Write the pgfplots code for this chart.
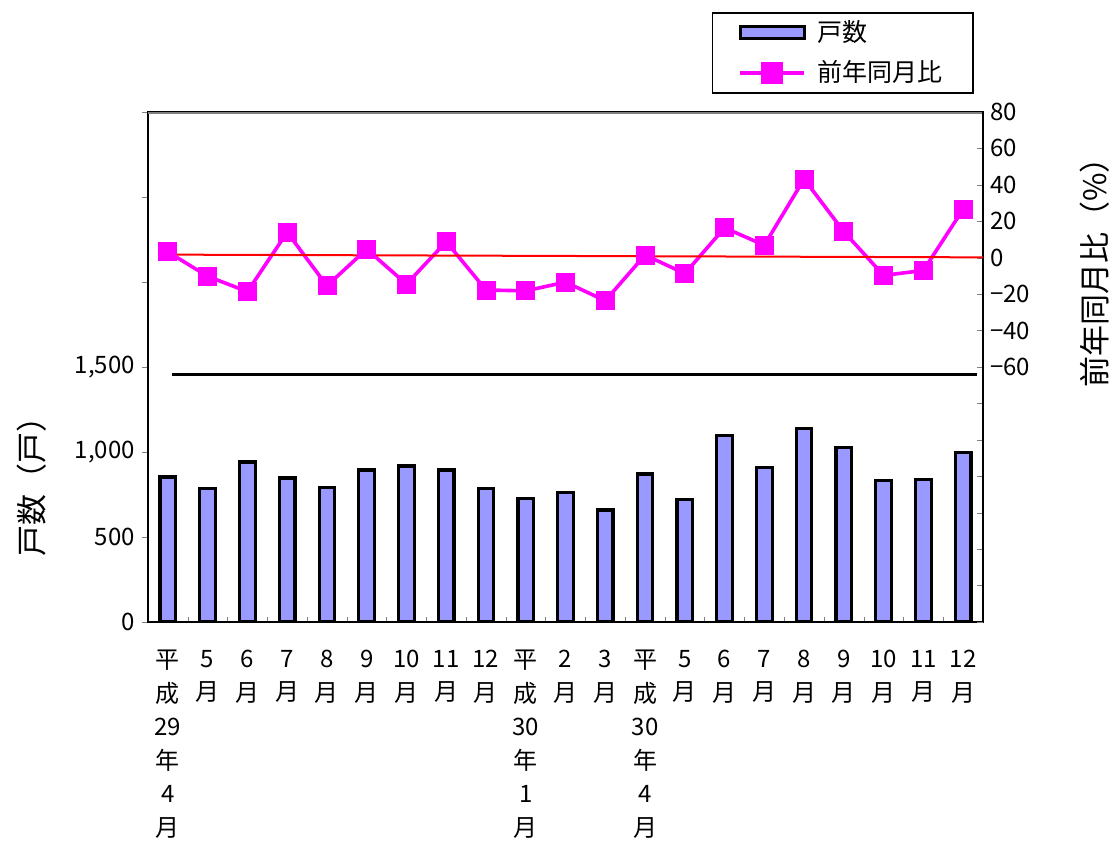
\documentclass[border=0pt]{standalone}
\usepackage{pgfplots}
\usepackage{pgfplotstable}
\pgfplotsset{compat=1.18}
\usepackage{fontspec}
\setmainfont{Noto Sans CJK JP}
\definecolor{barblue}{RGB}{153,153,255}
\definecolor{mag}{RGB}{255,0,255}
\definecolor{framegray}{RGB}{128,128,128}

\pgfplotstableread{
x hu yoy
0 853 3.2
1 785 -10.2
2 941 -18.6
3 847 14.0
4 792 -15.4
5 894 4.7
6 918 -14.5
7 894 8.8
8 784 -17.7
9 727 -18.2
10 761 -13.4
11 659 -23.6
12 871 1.5
13 722 -8.7
14 1098 16.4
15 910 6.9
16 1137 43.2
17 1028 14.3
18 831 -9.7
19 839 -7.0
20 996 26.6
}\data

\begin{document}
\begin{tikzpicture}
\useasboundingbox (-74pt,-110.5pt) rectangle (482pt,311pt);
\begin{axis}[
  scale only axis, width=417.5pt, height=255pt,
  at={(0,0)}, anchor=south west,
  xmin=-0.5, xmax=20.5, ymin=0, ymax=3000,
  /pgf/number format/assume math mode=true,
  axis line style={black, line width=1pt},
  xtick={0,...,20},
  xticklabels={{平\\成\\29\\年\\4\\月},{5\\月},{6\\月},{7\\月},{8\\月},{9\\月},{10\\月},{11\\月},{12\\月},{平\\成\\30\\年\\1\\月},{2\\月},{3\\月},{平\\成\\30\\年\\4\\月},{5\\月},{6\\月},{7\\月},{8\\月},{9\\月},{10\\月},{11\\月},{12\\月}},
  xticklabel style={align=center, anchor=north, yshift=-10.5pt, font=\fontsize{12}{16.75}\selectfont},
  major x tick style={draw=none},
  minor x tick num=1, minor tick length=2.5pt,
  xtick pos=bottom, xtick align=inside,
  ytick={0,500,...,3000},
  yticklabels={0,500,{1,000},{1,500},{},{},{}},
  ytick pos=left, ytick align=outside, major tick length=3pt,
  yticklabel style={font=\fontsize{12}{14}\selectfont},
  ylabel={戸数（戸）},
  ylabel style={at={(axis description cs:-0.139,0.28)}, anchor=center, font=\fontsize{15.5}{17}\selectfont},
]
\addplot[ybar, bar width=7.8pt, fill=barblue, draw=black, line width=1.6pt] table[x=x,y=hu]{\data};
\draw[framegray, line width=1.5pt] (rel axis cs:0,1) -- (rel axis cs:1,1);
\end{axis}
\begin{axis}[
  scale only axis, width=417.5pt, height=255pt,
  at={(0,0)}, anchor=south west,
  xmin=-0.5, xmax=20.5, ymin=-200, ymax=80,
  /pgf/number format/assume math mode=true,
  axis x line=none, axis y line*=right,
  axis line style={black, line width=1pt},
  ytick={-200,-180,...,80},
  yticklabels={{},{},{},{},{},{},{},−60,−40,−20,0,20,40,60,80},
  ytick align=inside, major tick length=3pt,
  yticklabel style={font=\fontsize{12}{14}\selectfont},
  ylabel={前年同月比（\%）},
  ylabel style={at={(axis description cs:1.134,0.70)}, anchor=center, rotate=0, font=\fontsize{15.5}{17}\selectfont},
  legend style={at={(rel axis cs:0.675,1.196)}, anchor=north west, draw=black, line width=0.75pt,
    font=\fontsize{12.5}{14}\selectfont, inner xsep=13pt, inner ysep=2pt, row sep=4pt, column sep=4pt,
    cells={anchor=west}},
  legend cell align=left,
]
\addlegendimage{legend image code/.code={\draw[fill=barblue,draw=black,line width=1.5pt] (0pt,-3pt) rectangle (32pt,3pt);}}
\addlegendentry{戸数}
\addlegendimage{legend image code/.code={\draw[mag,line width=1.8pt] (0pt,0pt) -- (32pt,0pt); \fill[mag] (11pt,-5pt) rectangle (21pt,5pt);}}
\addlegendentry{前年同月比}
\addplot[forget plot, black, line width=1.5pt] coordinates {(0.1,-64) (20.35,-64)};
\addplot[forget plot, mag, line width=1.8pt, mark=square*, mark size=4.5pt, mark options={solid, fill=mag, draw=mag, line width=0.4pt}] table[x=x,y=yoy]{\data};
\addplot[forget plot, red, line width=1pt] coordinates {(0,1.7) (20.5,0.2)};
\end{axis}
\end{tikzpicture}
\end{document}
